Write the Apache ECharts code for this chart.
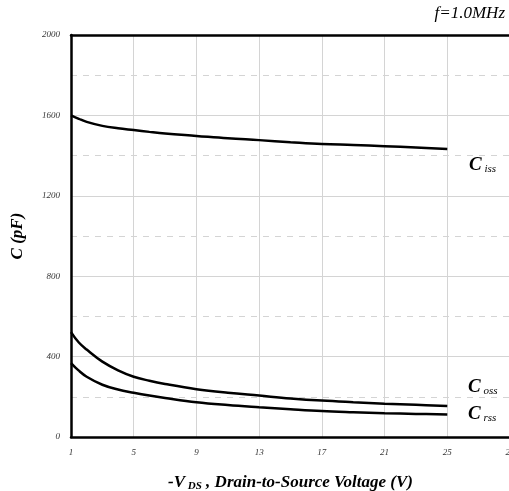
<!DOCTYPE html>
<html><head><meta charset="utf-8">
<script src="https://cdn.jsdelivr.net/npm/echarts@6/dist/echarts.min.js"></script>
<style>html,body{margin:0;padding:0;background:#fff}#c{width:509px;height:491px}</style>
</head><body><div id="c"></div>
<script>
const vds = [1, 1.5, 2, 3, 4, 5, 6, 7, 9, 11, 13, 15, 17, 19, 21, 23, 25];
const ciss = [1600, 1583, 1568, 1548, 1536, 1527, 1518, 1510, 1498, 1486, 1477, 1467, 1458, 1453, 1447, 1440, 1433];
const coss = [522, 470, 435, 375, 332, 300, 280, 264, 238, 220, 206, 192, 181, 173, 166, 160, 154];
const crss = [368, 330, 300, 260, 236, 220, 206, 194, 173, 159, 148, 138, 129, 123, 118, 115, 112];
const xTicks = [1, 5, 9, 13, 17, 21, 25, 29];
const yTicks = [0, 400, 800, 1200, 1600, 2000];

const serif = '"Liberation Serif","DejaVu Serif",serif';
const pairs = a => vds.map((v, i) => [v, a[i]]);
const lineSeries = (name, a) => ({
  name, type: 'line', data: pairs(a), smooth: 0.4, symbol: 'none',
  lineStyle: {color: '#000', width: 2.5}, z: 5
});
const chart = echarts.init(document.getElementById('c'));
chart.setOption({
  animation: false,
  grid: {left: 71, top: 35, width: 439, height: 402, containLabel: false, outerBoundsMode: 'none'},
  xAxis: [{
    type: 'value', min: xTicks[0], max: xTicks[xTicks.length - 1], interval: 4,
    axisLine: {show: true, lineStyle: {color: '#000', width: 2.5}},
    axisTick: {show: false},
    axisLabel: {fontFamily: serif, fontStyle: 'italic', fontSize: 9, color: '#333', margin: 11, formatter: v => String(v)},
    splitLine: {show: true, lineStyle: {color: '#d4d4d4', width: 1}},
    name: '{a|-V}{s| DS}{a| , Drain-to-Source Voltage (V)}',
    nameLocation: 'middle', nameGap: 36,
    nameTextStyle: {rich: {
      a: {fontFamily: serif, fontStyle: 'italic', fontWeight: 'bold', fontSize: 17, color: '#000'},
      s: {fontFamily: serif, fontStyle: 'italic', fontWeight: 'bold', fontSize: 11, color: '#000', verticalAlign: 'bottom', padding: [8, 0, 0, 0]}
    }}
  }, {
    type: 'value', position: 'top', min: xTicks[0], max: xTicks[xTicks.length - 1], interval: 4,
    axisLine: {show: true, lineStyle: {color: '#000', width: 2.5}},
    axisTick: {show: false}, axisLabel: {show: false}, splitLine: {show: false}
  }],
  yAxis: {
    type: 'value', min: yTicks[0], max: yTicks[yTicks.length - 1], interval: 400,
    axisLine: {show: true, lineStyle: {color: '#000', width: 2.5}},
    axisTick: {show: false},
    axisLabel: {fontFamily: serif, fontStyle: 'italic', fontSize: 9, color: '#333', margin: 11, formatter: v => String(v)},
    splitLine: {show: true, lineStyle: {color: '#d4d4d4', width: 1}},
    minorTick: {show: false, splitNumber: 2},
    minorSplitLine: {show: true, lineStyle: {color: '#d4d4d4', width: 1, type: [6, 6]}},
    name: 'C (pF)', nameLocation: 'middle', nameGap: 45,
    nameTextStyle: {fontFamily: serif, fontStyle: 'italic', fontWeight: 'bold', fontSize: 17, color: '#000'}
  },
  series: [lineSeries('Ciss', ciss), lineSeries('Coss', coss), lineSeries('Crss', crss)],
  graphic: [
    {type: 'text', right: 4, top: 5, style: {text: 'f=1.0MHz', font: 'italic 17px ' + serif, fill: '#000'}},
    {type: 'text', left: 469, top: 156, style: {
      text: '{c|C}{s| iss}', rich: {
        c: {font: 'italic bold 19px ' + serif, fill: '#000'},
        s: {font: 'italic 11px ' + serif, fill: '#000', verticalAlign: 'bottom', padding: [8, 0, 0, 0]}}}},
    {type: 'text', left: 468, top: 378, style: {
      text: '{c|C}{s| oss}', rich: {
        c: {font: 'italic bold 19px ' + serif, fill: '#000'},
        s: {font: 'italic 11px ' + serif, fill: '#000', verticalAlign: 'bottom', padding: [8, 0, 0, 0]}}}},
    {type: 'text', left: 468, top: 405, style: {
      text: '{c|C}{s| rss}', rich: {
        c: {font: 'italic bold 19px ' + serif, fill: '#000'},
        s: {font: 'italic 11px ' + serif, fill: '#000', verticalAlign: 'bottom', padding: [8, 0, 0, 0]}}}}
  ]
});
</script></body></html>
